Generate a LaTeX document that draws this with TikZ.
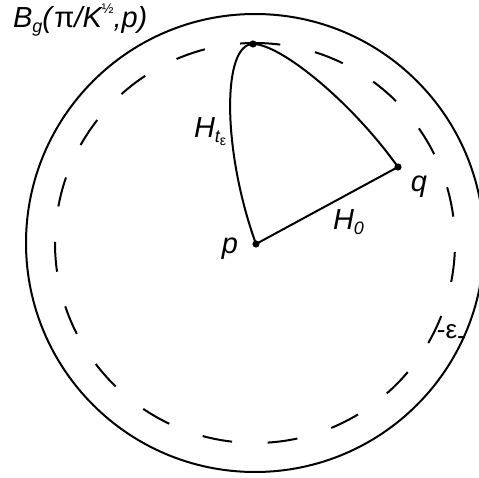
\documentclass[tikz,border=0pt]{standalone}
\usepackage{fontspec}
\setmainfont{Liberation Sans}
\newcommand{\mysub}[1]{\raisebox{-0.35ex}{\fontsize{9}{9}\selectfont #1}}
\begin{document}
\begin{tikzpicture}[x=0.5pt,y=0.5pt, line width=1pt,
  lbl/.style={font=\fontsize{14.5}{17}\selectfont\itshape, inner sep=0pt},
  dot/.style={circle, fill, inner sep=0pt, minimum size=3.6pt}]
\useasboundingbox (0,0) rectangle (478,478);
\coordinate (c) at (255,235);
\node[dot] (p) at (256,234) {};
\node[dot] (q) at (398,311) {};
\node[dot] (a) at (253,434) {};
% outer ball
\draw (c) circle[radius=229];
% dashed ball
\draw[dash pattern=on 15pt off 17.8pt] (c) ++(85.7:200) arc[start angle=85.7, end angle=445.7, radius=200];
% curves
\draw (p.center) .. controls (222,328) and (222,434) .. (a.center)
      .. controls (280,434) and (350,378) .. (q.center);
\draw (p.center) -- (q.center);
% labels
\node[lbl, anchor=base west] (title) at (12,451)
  {B\mysub{g}(\textup{π}/K\raisebox{0.9ex}{\fontsize{7}{7}\selectfont\upshape ½},p)};
\node[lbl, anchor=base] (pl) at (230,225) {p};
\node[lbl, anchor=base] (ql) at (419,286) {q};
\node[lbl, anchor=base west] (h0) at (332,249) {H\mysub{0}};
\node[lbl, anchor=base west] (ht) at (193,341)
  {H\mysub{t\raisebox{-0.3ex}{\fontsize{7}{7}\selectfont\upshape ε}}};
\node[lbl, anchor=base west, font=\fontsize{13}{15}\selectfont\upshape] (eps) at (436,140)
  {-ε\raisebox{-0.45ex}{-}};
\end{tikzpicture}
\end{document}
